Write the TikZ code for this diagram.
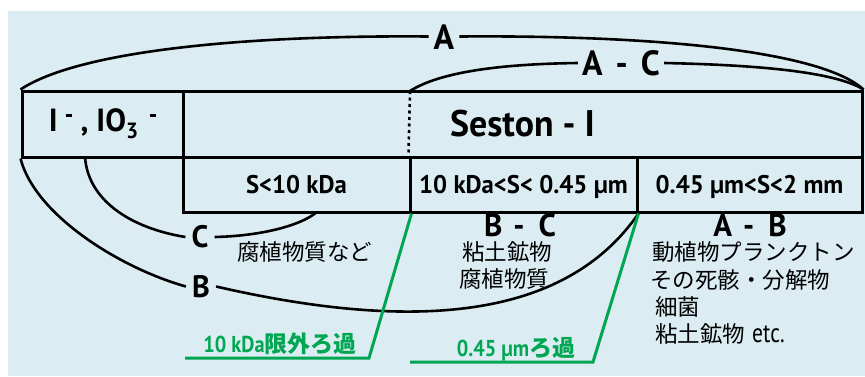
\documentclass[tikz,border=0pt]{standalone}
\usepackage{fontspec}
\setmainfont{PT Sans}[FakeStretch=0.97]
\newfontfamily\narrowfont{PT Sans}[FakeStretch=0.88]
\newfontfamily\jp{Noto Sans CJK JP}
\newfontfamily\etcfont{PT Sans}[FakeStretch=0.8]
\definecolor{bgblue}{RGB}{219,237,243}
\definecolor{fgreen}{RGB}{0,166,81}
\tikzset{
  cell/.style={draw, line width=3pt, inner sep=0pt, font=\bfseries\fontsize{25.5}{26}\selectfont},
  arcline/.style={line width=2.6pt},
  biglab/.style={font=\bfseries\fontsize{35}{35}\selectfont, inner sep=0pt, inner xsep=5pt, text height=25pt, text depth=0pt},
  midlab/.style={font=\bfseries\fontsize{31}{31}\selectfont, inner sep=0pt, inner xsep=6pt, text height=21pt, text depth=0pt},
  jtext/.style={font=\jp\fontsize{22.5}{27.5}\selectfont, inner sep=0pt},
  gline/.style={draw=fgreen, line width=3pt},
  gtext/.style={font=\narrowfont\bfseries\fontsize{23}{23}\selectfont, text=fgreen, inner sep=0pt, anchor=base}
}
\begin{document}
\begin{tikzpicture}[x=1pt,y=-1pt]
\useasboundingbox (0,0) rectangle (865,376);
\fill[bgblue] (8,11) rectangle (865,376);

% table cells
\node[cell, minimum width=161pt, minimum height=66pt, font=\bfseries\fontsize{32}{32}\selectfont] (ion) at (102.5,124)
  {I\kern8pt\rule[15pt]{6pt}{2.6pt}\kern9pt,\kern8pt IO\raisebox{-7pt}{\fontsize{22}{22}\selectfont 3}\kern12pt\rule[15pt]{6pt}{2.6pt}};
\node[cell, minimum width=679pt, minimum height=66pt, font=\bfseries\fontsize{37}{37}\selectfont] (seston) at (522.5,124) {Seston - I};
\node[cell, minimum width=227pt, minimum height=55pt, text height=18pt, text depth=0pt] (ra) at (296.5,184.5) {S<10 kDa};
\node[cell, minimum width=227pt, minimum height=55pt, text height=18pt, text depth=0pt] (rb) at (523.5,184.5) {10 kDa<S< 0.45 µm};
\node[cell, minimum width=225pt, minimum height=55pt, text height=18pt, text depth=0pt] (rc) at (749.5,184.5) {0.45 µm<S<2 mm};

\coordinate (dtop) at (410,91);
\coordinate (cstart) at (85,157);
\coordinate (cend) at (317,212);

% labels
\node[biglab] (A) at (444,36.5) {A};
\node[biglab, inner xsep=4pt] (AC) at (621,63) {A\hspace{13pt}-\hspace{13pt}C};
\node[midlab] (C) at (200,237) {C};
\node[midlab] (B) at (201,286.5) {B};
\node[midlab, font=\bfseries\fontsize{32}{32}\selectfont] (BC) at (520,225.5) {B\hspace{11pt}-\hspace{14pt}C};
\node[midlab, font=\bfseries\fontsize{32}{32}\selectfont] (AB) at (750,225.5) {A\hspace{11pt}-\hspace{14pt}B};

% arcs
\draw[arcline] (ion.north west) .. controls (80,50) and (250,35) .. (A.west);
\draw[arcline] (A.east) .. controls (650,35) and (820,50) .. (seston.north east);
\draw[arcline] (dtop) .. controls (440,72) and (500,64) .. (AC.west);
\draw[arcline] (AC.east) .. controls (760,65) and (835,72) .. (seston.north east);
\draw[arcline] (ion.south west) .. controls (35,215) and (120,268) .. (B.west);
\draw[arcline] (B.east) .. controls (414,332) and (565,320) .. (rb.south east);
\draw[arcline] (cstart) .. controls (88,200) and (130,228) .. (C.west);
\draw[arcline] (C.east) .. controls (260,236) and (300,226) .. (cend);

% dotted divider
\draw[line width=2.6pt, dash pattern=on 3pt off 3.5pt] (dtop) -- (rb.north west);

% Japanese texts
\node[jtext, anchor=base west] (j1) at (237,260) {腐植物質など};
\node[jtext, anchor=base] (j2a) at (507,260.5) {粘土鉱物};
\node[jtext, anchor=base] (j2b) at (504,287.5) {腐植物質};
\node[jtext, anchor=base west] (j3a) at (652,260.5) {動植物プランクトン};
\node[jtext, anchor=base west] (j3b) at (650,288) {その死骸・分解物};
\node[jtext, anchor=base west] (j3c) at (655,315) {細菌};
\node[jtext, anchor=base west] (j3d) at (655,342) {粘土鉱物\kern7pt{\etcfont\fontsize{27}{27}\selectfont etc.}};

% green filtration lines
\coordinate (g1a) at (369,358);
\coordinate (g1b) at (185,358);
\coordinate (g2a) at (593,362);
\coordinate (g2b) at (410,362);
\draw[gline] (ra.south east) -- (g1a) -- (g1b);
\draw[gline] (rb.south east) -- (g2a) -- (g2b);
\node[gtext] (gt1) at (280,352) {10 kDa{\jp\bfseries 限外ろ過}};
\node[gtext] (gt2) at (516,356) {0.45 µm{\jp\bfseries ろ過}};
\end{tikzpicture}
\end{document}
